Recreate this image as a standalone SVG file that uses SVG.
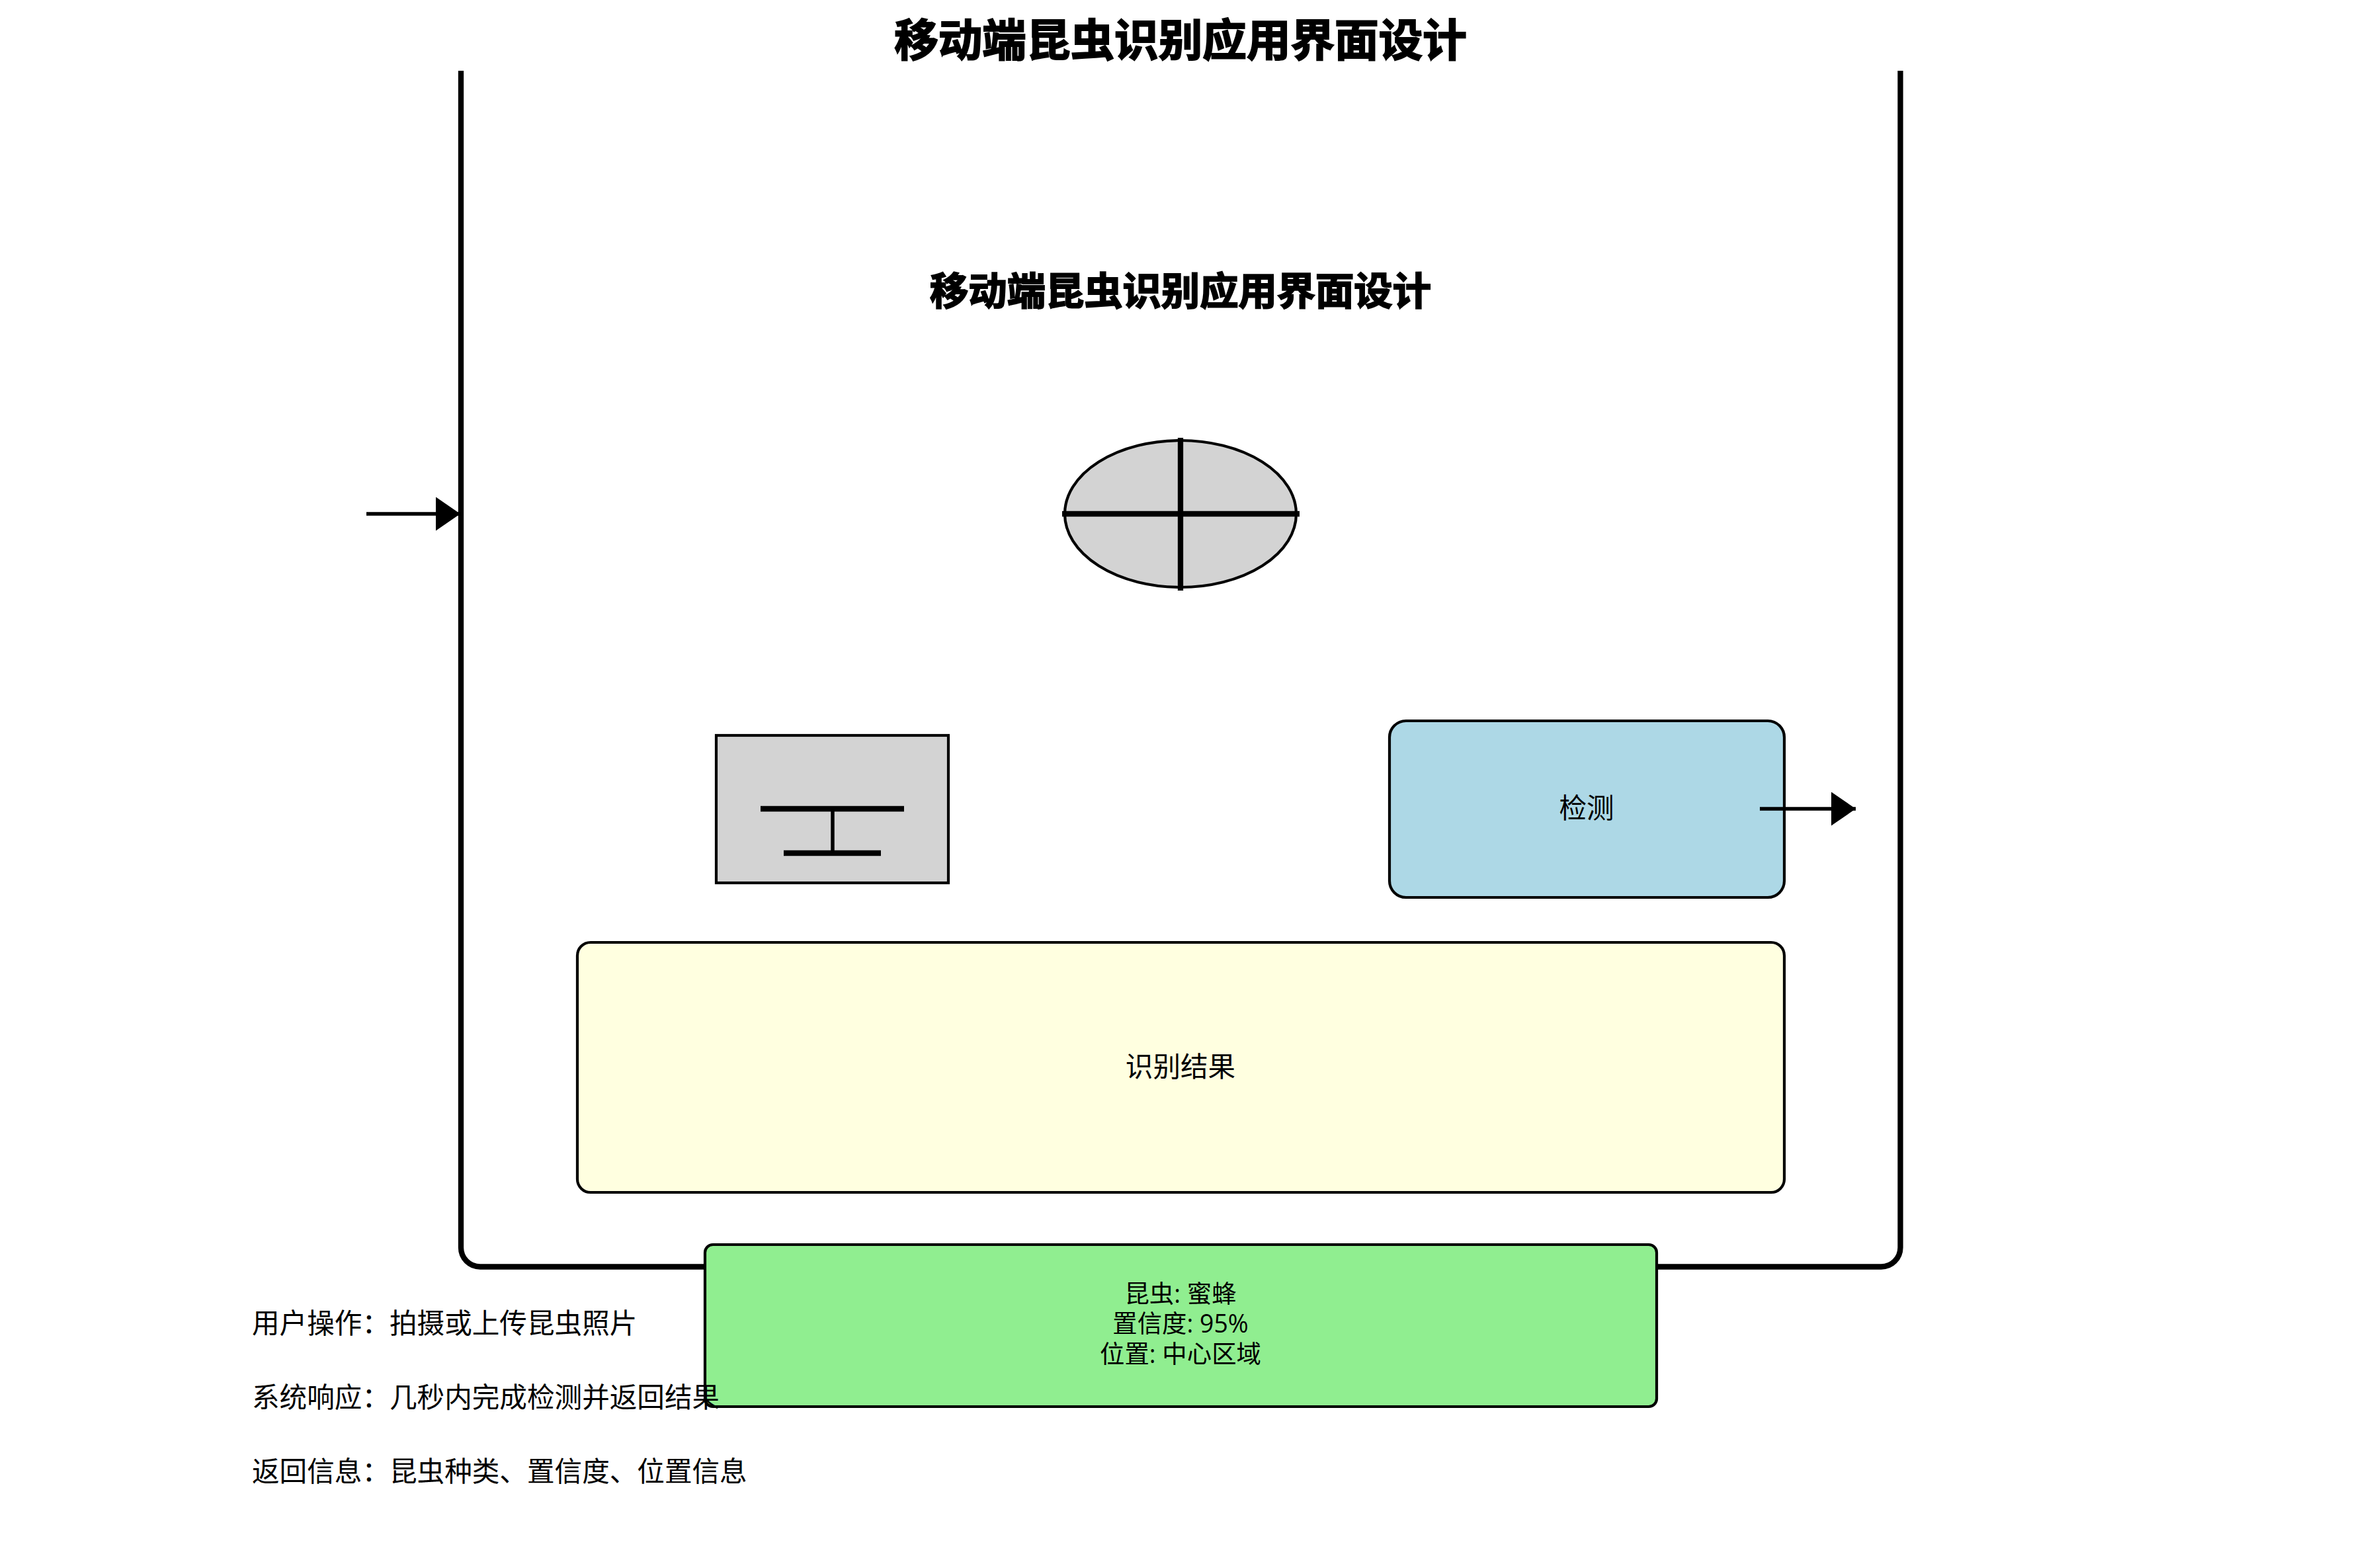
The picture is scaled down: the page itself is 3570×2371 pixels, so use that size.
<svg xmlns="http://www.w3.org/2000/svg" width="3570" height="2371" viewBox="0 0 3570 2371">
<style>
text{font-family:"Open Sans","Noto Sans CJK SC",sans-serif;fill:#000;font-size:41.6px}
.m{text-anchor:middle}
.n{text-anchor:middle;font-size:37.4px}
.s{stroke:#000;stroke-width:4.2}
.l{stroke:#000;stroke-width:8.3;fill:none}
.a{stroke:#000;stroke-width:5.5;fill:none}
.t{font-weight:700;text-anchor:middle;stroke:#000;stroke-width:2}
</style>
<defs><marker id="arrow" markerUnits="userSpaceOnUse" markerWidth="37" markerHeight="51" refX="37" refY="25.5" orient="auto"><path d="M0 0L37 25.5L0 51Z" fill="#000"/></marker></defs>
<rect width="3570" height="2371" fill="#fff"/>
<g id="frame"><path d="M697 107V1886.500a29 29 0 0 0 29 29H2844.500a29 29 0 0 0 29-29V107" fill="none" stroke="#000" stroke-width="8.300"/></g>
<g id="title"><text class="t" x="1785" y="85" style="font-size:66.600px">移动端昆虫识别应用界面设计</text></g>
<g id="subtitle"><text class="t" x="1785" y="461" style="font-size:58.300px">移动端昆虫识别应用界面设计</text></g>
<g id="lens"><ellipse cx="1785" cy="777" rx="175" ry="111" fill="#d3d3d3" class="s"/><path class="l" d="M1606 777H1965M1785 662V893"/></g>
<g id="icon"><rect x="1083" y="1112" width="351" height="223" fill="#d3d3d3" class="s"/><path class="l" d="M1150 1223H1367M1185 1290H1332"/><path class="a" d="M1259 1223V1290"/></g>
<g id="detect"><rect x="2101" y="1090" width="597" height="267" rx="25" fill="#add8e6" class="s"/><text class="m" x="2399" y="1237">检测</text></g>
<g id="result"><rect x="873" y="1425" width="1825" height="378" rx="20" fill="#ffffe0" class="s"/><text class="m" x="1785" y="1628">识别结果</text></g>
<g id="info"><rect x="1066" y="1882" width="1439" height="245" rx="12" fill="#90ee90" class="s"/><text class="n" x="1785" y="1970">昆虫: 蜜蜂</text><text class="n" x="1785" y="2015">置信度: 95%</text><text class="n" x="1785" y="2061">位置: 中心区域</text></g>
<g id="notes"><text x="381" y="2016">用户操作：拍摄或上传昆虫照片</text><text x="381" y="2128">系统响应：几秒内完成检测并返回结果</text><text x="381" y="2240">返回信息：昆虫种类、置信度、位置信息</text></g>
<g id="connectors"><path class="a" marker-end="url(#arrow)" d="M554 777H696"/><path class="a" marker-end="url(#arrow)" d="M2661 1223H2806"/></g>
</svg>
